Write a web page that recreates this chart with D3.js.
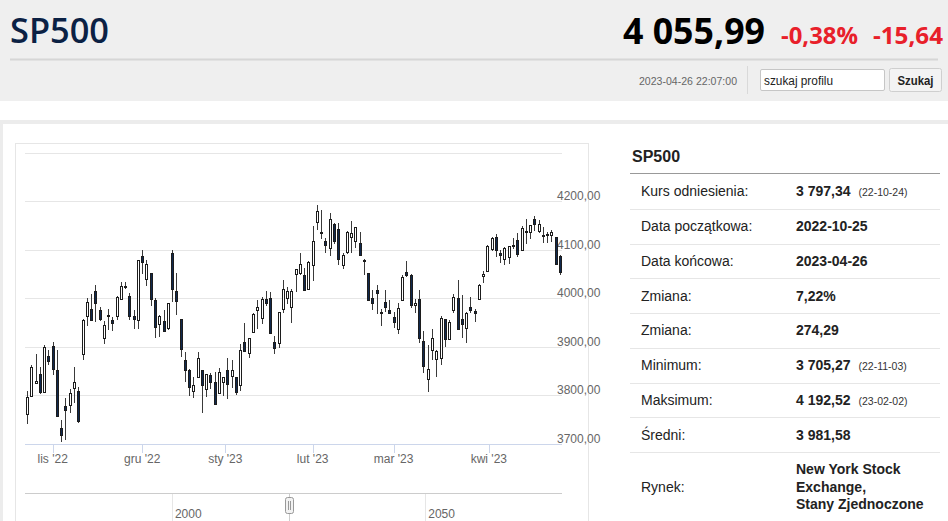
<!DOCTYPE html>
<html><head><meta charset="utf-8">
<script src="https://cdn.jsdelivr.net/npm/d3@7/dist/d3.min.js"></script>
<style>
html,body{margin:0;padding:0;background:#fff;overflow:hidden;}
svg{display:block;font-family:"Liberation Sans",Arial,Helvetica,sans-serif;}
</style></head><body>
<svg id="c" width="948" height="521"></svg>
<script>
// ---------- DATA ----------
const dates = ["2022-10-24","2022-10-25","2022-10-26","2022-10-27","2022-10-28","2022-10-31",
"2022-11-01","2022-11-02","2022-11-03","2022-11-04","2022-11-07","2022-11-08","2022-11-09","2022-11-10","2022-11-11",
"2022-11-14","2022-11-15","2022-11-16","2022-11-17","2022-11-18","2022-11-21","2022-11-22","2022-11-23","2022-11-25",
"2022-11-28","2022-11-29","2022-11-30","2022-12-01","2022-12-02","2022-12-05","2022-12-06","2022-12-08","2022-12-09",
"2022-12-12","2022-12-13","2022-12-14","2022-12-15","2022-12-16","2022-12-19","2022-12-20","2022-12-21","2022-12-22",
"2022-12-23","2022-12-27","2022-12-28","2022-12-29","2022-12-30","2023-01-03","2023-01-04","2023-01-05","2023-01-06",
"2023-01-09","2023-01-10","2023-01-11","2023-01-12","2023-01-13","2023-01-17","2023-01-18","2023-01-19","2023-01-20",
"2023-01-23","2023-01-24","2023-01-25","2023-01-26","2023-01-27","2023-01-30","2023-01-31","2023-02-01","2023-02-02",
"2023-02-03","2023-02-06","2023-02-07","2023-02-08","2023-02-09","2023-02-10","2023-02-13","2023-02-14","2023-02-15",
"2023-02-16","2023-02-17","2023-02-21","2023-02-22","2023-02-23","2023-02-24","2023-02-27","2023-02-28","2023-03-01",
"2023-03-02","2023-03-03","2023-03-06","2023-03-07","2023-03-08","2023-03-09","2023-03-10","2023-03-13","2023-03-14",
"2023-03-15","2023-03-16","2023-03-17","2023-03-20","2023-03-21","2023-03-22","2023-03-23","2023-03-24","2023-03-27",
"2023-03-28","2023-03-29","2023-03-30","2023-03-31","2023-04-03","2023-04-04","2023-04-05","2023-04-06","2023-04-10",
"2023-04-11","2023-04-12","2023-04-13","2023-04-14","2023-04-17","2023-04-18","2023-04-19","2023-04-20","2023-04-21",
"2023-04-24","2023-04-25","2023-04-26"];

const open = [3762.01,3799.44,3825.97,3846.00,3808.26,3881.85,
3901.79,3852.90,3733.25,3780.00,3780.71,3817.02,3810.94,3886.00,3963.72,
3977.97,4016.00,3976.82,3919.26,3966.39,3956.23,3965.51,4000.30,4023.34,
4005.36,3964.36,3957.18,4087.14,4040.17,4052.02,3996.63,3947.79,3954.17,
3939.29,4095.00,4015.54,3958.37,3874.00,3853.79,3810.47,3839.49,3853.26,
3815.11,3843.34,3829.56,3805.45,3829.06,3853.29,3840.36,3839.74,3823.37,
3910.82,3888.57,3932.35,3977.57,3960.60,3999.28,4002.25,3911.84,3909.04,
3978.14,4001.74,3982.71,4050.00,4053.72,4049.27,4020.85,4070.07,4158.68,
4136.69,4119.57,4105.35,4153.47,4144.25,4068.92,4096.62,4126.70,4119.50,
4114.75,4077.39,4052.35,4001.83,4018.60,3973.24,3992.36,3977.19,3963.34,
3938.68,3998.02,4055.15,4048.26,3987.55,3998.66,3912.77,3835.12,3894.01,
3876.74,3878.93,3958.69,3917.47,3975.89,4002.04,3959.21,3939.21,3982.93,
3974.13,3999.53,4046.74,4056.18,4102.20,4128.03,4094.50,4081.15,4085.20,
4110.29,4121.72,4100.04,4140.11,4137.17,4164.26,4139.33,4130.48,4132.14,
4132.07,4126.43,4087.78];

const high = [3810.74,3862.85,3886.15,3859.95,3905.42,3893.73,
3911.79,3894.44,3750.59,3796.34,3813.95,3859.40,3818.20,3958.33,4001.48,
4008.97,4028.84,3983.09,3954.33,3979.89,3962.00,4005.88,4033.78,4034.02,
4012.27,3976.77,4080.11,4100.51,4080.48,4052.45,4001.51,3966.64,3977.02,
3990.71,4100.96,4053.76,3958.37,3890.91,3854.86,3838.24,3889.82,3853.26,
3845.80,3846.65,3848.32,3858.19,3839.85,3878.46,3873.16,3839.74,3906.19,
3950.57,3919.83,3970.07,3997.76,4003.95,4015.39,4014.16,3922.94,3972.96,
4039.31,4023.92,4019.55,4061.57,4094.21,4063.85,4077.16,4148.95,4192.52,
4182.36,4124.63,4176.54,4156.85,4156.23,4094.36,4138.90,4159.77,4148.11,
4136.54,4081.51,4052.35,4017.37,4028.30,3978.25,4018.05,3997.50,3971.73,
3990.84,4048.29,4078.49,4050.00,4000.41,4017.81,3934.05,3905.05,3937.29,
3894.26,3964.46,3958.91,3956.62,4009.08,4039.49,4007.66,3972.74,4003.83,
3979.20,4030.59,4057.85,4110.75,4127.66,4133.13,4099.69,4107.32,4109.50,
4124.26,4134.37,4150.26,4163.19,4151.72,4169.48,4162.57,4148.57,4138.02,
4142.41,4126.43,4089.67];

const low = [3741.65,3799.44,3824.07,3803.79,3808.26,3863.18,
3843.80,3758.68,3705.27,3708.84,3764.70,3786.28,3744.22,3874.00,3944.82,
3956.40,3953.17,3954.34,3906.54,3935.98,3933.34,3956.88,3998.66,4020.76,
3955.77,3937.65,3938.58,4050.87,4026.63,3984.49,3918.39,3921.27,3933.04,
3935.30,3993.03,3965.65,3879.45,3827.91,3800.04,3795.62,3839.49,3764.49,
3797.01,3813.22,3780.78,3805.45,3800.34,3794.33,3815.77,3802.42,3809.56,
3890.42,3877.29,3928.54,3937.56,3947.67,3984.57,3926.59,3885.54,3897.86,
3971.64,3989.79,3949.06,4013.29,4048.70,4015.55,4020.44,4037.20,4141.88,
4123.36,4093.38,4088.39,4111.67,4069.67,4060.79,4092.67,4095.01,4103.98,
4089.43,4047.95,3995.19,3976.90,3969.19,3943.08,3973.55,3968.98,3939.05,
3928.16,3995.17,4044.61,3980.31,3969.76,3908.70,3846.32,3808.86,3873.63,
3838.24,3864.11,3901.27,3916.89,3971.19,3936.17,3919.05,3909.16,3970.49,
3951.53,3999.53,4032.10,4056.18,4098.79,4086.87,4072.56,4069.84,4072.55,
4102.61,4086.94,4099.40,4113.20,4123.18,4140.36,4134.49,4114.57,4113.86,
4117.77,4071.38,4049.35];

const close = [3797.34,3859.11,3830.60,3807.30,3901.06,3871.98,
3856.10,3759.69,3719.89,3770.55,3806.80,3828.11,3748.57,3956.37,3992.93,
3957.25,3991.73,3958.79,3946.56,3965.34,3949.94,4003.58,4027.26,4026.12,
3963.94,3957.63,4080.11,4076.57,4071.70,3998.84,3941.26,3963.51,3934.38,
3990.56,4019.65,3995.32,3895.75,3852.36,3817.66,3821.62,3878.44,3822.39,
3844.82,3829.25,3783.22,3849.28,3839.50,3824.14,3852.97,3808.10,3895.08,
3892.09,3919.25,3969.61,3983.17,3999.09,3990.97,3928.86,3898.85,3972.61,
4019.81,4016.95,4016.22,4060.43,4070.56,4017.77,4076.60,4119.21,4179.76,
4136.48,4111.08,4164.00,4117.86,4081.50,4090.46,4137.29,4136.13,4147.60,
4090.41,4079.09,3997.34,3991.05,4012.32,3970.04,3982.24,3970.15,3951.39,
3981.35,4045.64,4048.42,3986.37,3992.01,3918.32,3861.59,3855.76,3919.29,
3891.93,3960.28,3916.64,3951.57,4002.87,3936.97,3948.72,3970.99,3977.53,
3971.27,4027.81,4050.83,4109.31,4124.51,4100.60,4090.38,4105.02,4109.11,
4108.94,4091.95,4146.22,4137.64,4151.32,4154.87,4154.52,4129.79,4133.52,
4137.04,4071.63,4055.99];

const yGridTicks = [3700,3800,3900,4000,4100,4200,4300];
const yLabelTicks = [3700,3800,3900,4000,4100,4200];
const monthStarts = ["2022-11-01","2022-12-01","2023-01-01","2023-02-01","2023-03-01","2023-04-01"];
const monthLabels = ["lis '22","gru '22","sty '23","lut '23","mar '23","kwi '23"];
const navExtent = [1971, 2077];
const navTicks = [2000, 2050];

const title = "SP500";
const lastPrice = "4 055,99";
const changePct = "-0,38%";
const changeAbs = "-15,64";
const timestamp = "2023-04-26 22:07:00";
const searchPlaceholder = "szukaj profilu";
const searchButton = "Szukaj";

const tableLabels = ["Kurs odniesienia:","Data początkowa:","Data końcowa:","Zmiana:","Zmiana:","Minimum:","Maksimum:","Średni:","Rynek:"];
const tableValues = ["3 797,34","2022-10-25","2023-04-26","7,22%","274,29","3 705,27","4 192,52","3 981,58","New York Stock|Exchange,|Stany Zjednoczone"];
const tableNotes  = ["(22-10-24)","","","","","(22-11-03)","(23-02-02)","",""];

// ---------- DRAW ----------
const svg = d3.select("#c");
const sans = '"Open Sans","Noto Sans","Liberation Sans",Arial,sans-serif';

// page backgrounds
svg.append("rect").attr("x",0).attr("y",0).attr("width",948).attr("height",101).attr("fill","#efefef");
svg.append("rect").attr("x",0).attr("y",120).attr("width",948).attr("height",4).attr("fill","#ececec");
svg.append("rect").attr("x",0).attr("y",120).attr("width",3).attr("height",401).attr("fill","#ececec");

// header
svg.append("text").text(title).attr("x",10).attr("y",43)
  .attr("font-family",sans).attr("font-weight",600).attr("font-size",34)
  .attr("textLength",99).attr("lengthAdjust","spacingAndGlyphs").attr("fill","#0b2144");
svg.append("text").text(lastPrice).attr("x",623).attr("y",43.5)
  .attr("font-family",sans).attr("font-weight","bold").attr("font-size",35)
  .attr("textLength",142).attr("lengthAdjust","spacingAndGlyphs").attr("fill","#000");
svg.append("text").text(changePct).attr("x",781).attr("y",43.5)
  .attr("font-family",sans).attr("font-weight","bold").attr("font-size",24)
  .attr("textLength",77).attr("lengthAdjust","spacingAndGlyphs").attr("fill","#e8202a");
svg.append("text").text(changeAbs).attr("x",873).attr("y",43.5)
  .attr("font-family",sans).attr("font-weight","bold").attr("font-size",24)
  .attr("textLength",70).attr("lengthAdjust","spacingAndGlyphs").attr("fill","#e8202a");
svg.append("line").attr("x1",10).attr("x2",938).attr("y1",59.5).attr("y2",59.5)
  .attr("stroke","#d6d6d6").attr("stroke-width",2);
svg.append("text").text(timestamp).attr("x",639).attr("y",84.5)
  .attr("font-size",10.5)
  .attr("textLength",98).attr("lengthAdjust","spacingAndGlyphs").attr("fill","#666");
svg.append("line").attr("x1",747.5).attr("x2",747.5).attr("y1",66).attr("y2",94).attr("stroke","#d9d9d9");
svg.append("rect").attr("x",760.5).attr("y",69.5).attr("width",124).attr("height",21).attr("rx",1.5)
  .attr("fill","#fff").attr("stroke","#c6c6c6");
svg.append("text").text(searchPlaceholder).attr("x",764).attr("y",84.5)
  .attr("font-size",12.5)
  .attr("textLength",69).attr("lengthAdjust","spacingAndGlyphs").attr("fill","#222");
svg.append("rect").attr("x",889.5).attr("y",68.5).attr("width",52).attr("height",23).attr("rx",2)
  .attr("fill","#f3f3f3").attr("stroke","#cfcfcf");
svg.append("text").text(searchButton).attr("x",897.5).attr("y",84.5)
  .attr("font-weight","bold").attr("font-size",12.5)
  .attr("textLength",36).attr("lengthAdjust","spacingAndGlyphs").attr("fill","#222");

// chart container
svg.append("rect").attr("x",15.5).attr("y",143.5).attr("width",573).attr("height",420)
  .attr("fill","#fff").attr("stroke","#e6e6e6");

const plotL = 25, plotR = 562;
const n = dates.length;
const x = d3.scaleBand().domain(d3.range(n)).range([plotL, plotR]);
const cx = i => x(i) + x.bandwidth()/2;
const y = d3.scaleLinear().domain([3700, 4300]).range([444.5, 153]);
const fmt = v => v.toFixed(2).replace(".", ",");

const g = svg.append("g");
// grid
g.selectAll("line.grid").data(yGridTicks).join("line").attr("class","grid")
  .attr("x1",plotL).attr("x2",plotR)
  .attr("y1",d=>Math.floor(y(d))+0.5).attr("y2",d=>Math.floor(y(d))+0.5)
  .attr("stroke","#e6e6e6");
// y labels
g.selectAll("text.yl").data(yLabelTicks).join("text").attr("class","yl")
  .attr("x",557).attr("y",d=>Math.floor(y(d))-1.5)
  .attr("font-size",12).attr("fill","#666").text(fmt);

// x axis
const tms = dates.map(d => Date.parse(d+"T00:00:00Z"));
function ordPos(ds){
  const tm = Date.parse(ds+"T00:00:00Z");
  const j = tms.findIndex(v => v >= tm);
  if (j <= 0 || tms[j] === tm) return cx(Math.max(j,0));
  const f = (tm - tms[j-1])/(tms[j]-tms[j-1]);
  return cx(j-1) + f*(cx(j)-cx(j-1));
}
g.append("line").attr("x1",plotL).attr("x2",plotR).attr("y1",444.5).attr("y2",444.5).attr("stroke","#ccd6eb");
const mt = monthStarts.map((d,i)=>({x:ordPos(d), label:monthLabels[i]}));
g.selectAll("line.xt").data(mt).join("line").attr("class","xt")
  .attr("x1",d=>Math.round(d.x)+0.5).attr("x2",d=>Math.round(d.x)+0.5)
  .attr("y1",444.5).attr("y2",453).attr("stroke","#ccd6eb");
g.selectAll("text.xl").data(mt).join("text").attr("class","xl")
  .attr("x",d=>d.x).attr("y",463).attr("text-anchor","middle")
  .attr("font-size",12).attr("fill","#666").text(d=>d.label);

// candles
const idx = d3.range(n);
const cg = g.append("g");
cg.selectAll("line.wick").data(idx).join("line").attr("class","wick")
  .attr("x1",i=>Math.round(cx(i))+0.5).attr("x2",i=>Math.round(cx(i))+0.5)
  .attr("y1",i=>Math.round(y(high[i]))).attr("y2",i=>Math.round(y(low[i])))
  .attr("stroke","#3a3a3a");
cg.selectAll("rect.body").data(idx).join("rect").attr("class","body")
  .attr("x",i=>Math.round(cx(i))-0.5)
  .attr("width",2)
  .attr("y",i=>Math.round(y(Math.max(open[i],close[i])))+0.5)
  .attr("height",i=>Math.max(1, Math.round(y(Math.min(open[i],close[i]))) - Math.round(y(Math.max(open[i],close[i])))))
  .attr("fill",i=> close[i] >= open[i] ? "#ffffff" : "#10284d")
  .attr("stroke","#1c1c1c");

// navigator
const nav = d3.scaleLinear().domain(navExtent).range([plotL, plotR]);
g.append("line").attr("x1",plotL).attr("x2",plotR).attr("y1",493.5).attr("y2",493.5).attr("stroke","#cccccc");
g.selectAll("line.nt").data(navTicks).join("line").attr("class","nt")
  .attr("x1",d=>Math.round(nav(d))+0.5).attr("x2",d=>Math.round(nav(d))+0.5)
  .attr("y1",494).attr("y2",521).attr("stroke","#e6e6e6");
g.selectAll("text.nl").data(navTicks).join("text").attr("class","nl")
  .attr("x",d=>nav(d)+3).attr("y",518).attr("font-size",12).attr("fill","#666").text(d=>d);
const yearFrac = ds => { const d = new Date(ds+"T00:00:00Z"); const y0 = Date.UTC(d.getUTCFullYear(),0,1), y1 = Date.UTC(d.getUTCFullYear()+1,0,1); return d.getUTCFullYear() + (d - y0)/(y1 - y0); };
const hx = Math.round(nav((yearFrac(dates[0]) + yearFrac(dates[n-1]))/2));
g.append("line").attr("x1",hx+0.5).attr("x2",hx+0.5).attr("y1",494).attr("y2",521).attr("stroke","#cccccc");
g.append("rect").attr("x",hx-3.5).attr("y",497.5).attr("width",8).attr("height",16).attr("rx",2)
  .attr("fill","#f2f2f2").attr("stroke","#999");
[hx-0.5, hx+1.5].forEach(xx => g.append("line").attr("x1",xx).attr("x2",xx).attr("y1",501).attr("y2",510).attr("stroke","#999"));

// side table
const tg = svg.append("g");
tg.append("text").text(title).attr("x",632).attr("y",162).attr("font-size",16).attr("font-weight","bold").attr("fill","#222");
tg.append("line").attr("x1",630).attr("x2",940).attr("y1",173.5).attr("y2",173.5).attr("stroke","#999");
const rowTop = 174, rowH = 34.75;
tableLabels.forEach((lab,i)=>{
  const top = rowTop + i*rowH;
  const last = i === tableLabels.length-1;
  const base = last ? 491.5 : top + rowH/2 + 5;
  tg.append("text").text(lab).attr("x",641).attr("y",base).attr("font-size",14).attr("fill","#222");
  const lines = tableValues[i].split("|");
  const lh = 17.5;
  const vt = tg.append("text").attr("font-size",14).attr("font-weight","bold").attr("fill","#222");
  lines.forEach((ln,k)=> vt.append("tspan").attr("x",796).attr("y",base + (k-(lines.length-1)/2)*lh).text(ln));
  if (tableNotes[i]) {
    const w = vt.node().getComputedTextLength();
    tg.append("text").text(tableNotes[i]).attr("x",796+w+8).attr("y",base).attr("font-size",10.5).attr("fill","#333");
  }
  if (!last) tg.append("line").attr("x1",630).attr("x2",940)
     .attr("y1",Math.round(top+rowH)+0.5).attr("y2",Math.round(top+rowH)+0.5).attr("stroke","#e6e6e6");
});
</script>
</body></html>
